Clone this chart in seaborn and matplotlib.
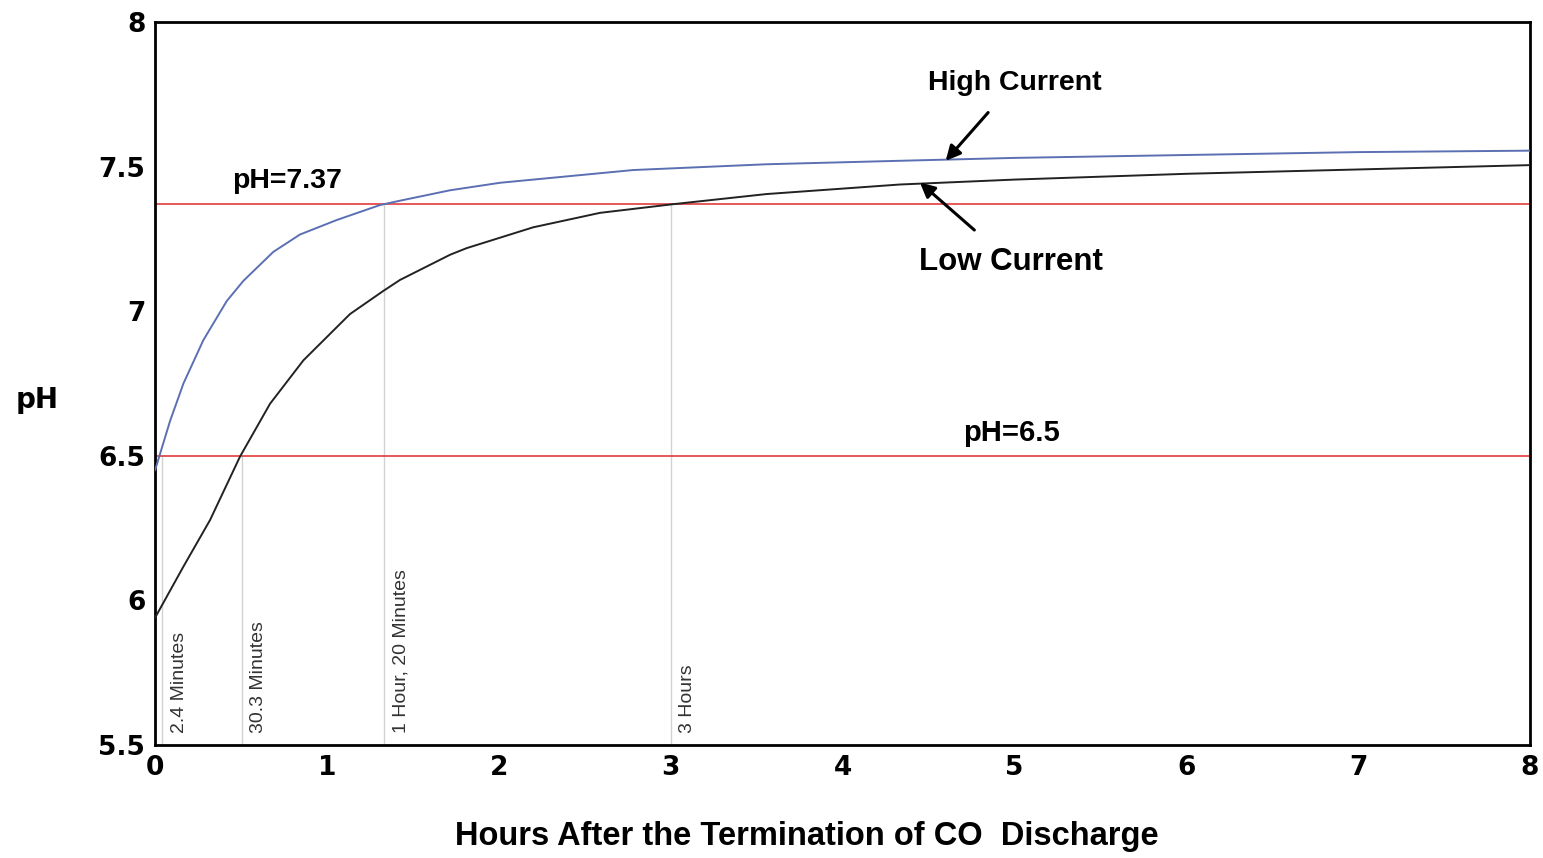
import matplotlib
matplotlib.use('Agg')
import matplotlib.pyplot as plt
import seaborn as sns
import pandas as pd
import numpy as np

# Data
hours_high = [0.0, 0.087, 0.165, 0.281, 0.417, 0.514, 0.688, 0.843, 1.056, 1.309, 1.425,
              1.716, 2.007, 2.782, 3.558, 4.334, 5.0, 6.0, 7.0, 8.0]
ph_high = [6.45, 6.62, 6.75, 6.90, 7.035, 7.105, 7.205, 7.265, 7.315, 7.367, 7.382,
           7.418, 7.444, 7.488, 7.508, 7.52, 7.53, 7.54, 7.55, 7.555]

hours_low = [0.0, 0.165, 0.32, 0.494, 0.669, 0.863, 1.134, 1.328, 1.425, 1.716, 1.813,
             2.2, 2.589, 3.015, 3.558, 4.334, 5.0, 6.0, 7.0, 8.0]
ph_low = [5.94, 6.117, 6.278, 6.497, 6.68, 6.83, 6.99, 7.07, 7.108, 7.195, 7.218,
          7.29, 7.34, 7.37, 7.405, 7.438, 7.455, 7.475, 7.49, 7.505]

ref_levels = [7.37, 6.5]
ref_labels = ['pH=7.37', 'pH=6.5']

mark_hours = [0.04, 0.505, 1.333, 3.0]
mark_tops = [6.5, 6.5, 7.37, 7.37]
mark_labels = ['2.4 Minutes', '30.3 Minutes', '1 Hour, 20 Minutes', '3 Hours']

x_ticks = [0, 1, 2, 3, 4, 5, 6, 7, 8]
y_ticks = [5.5, 6, 6.5, 7, 7.5, 8]
y_tick_labels = ['5.5', '6', '6.5', '7', '7.5', '8']

df = pd.concat([
    pd.DataFrame({'hours': hours_high, 'pH': ph_high, 'series': 'High Current'}),
    pd.DataFrame({'hours': hours_low, 'pH': ph_low, 'series': 'Low Current'}),
])

sns.set_style('white')
plt.rcParams['font.family'] = ['Liberation Sans', 'DejaVu Sans']
plt.rcParams['text.color'] = 'black'
plt.rcParams['axes.labelcolor'] = 'black'

fig, ax = plt.subplots(figsize=(15.43, 8.58), dpi=100)
fig.subplots_adjust(left=0.1005, right=0.9916, top=0.9744, bottom=0.1317)

# vertical marker lines
for h, top, lab in zip(mark_hours, mark_tops, mark_labels):
    ax.plot([h, h], [5.5, top], color='#d2d2d2', lw=1.0, zorder=1)
    ax.text(h + 0.05, 5.54, lab, rotation=90, ha='left', va='bottom',
            fontsize=14, color='#333333')

# reference pH lines
for lvl in ref_levels:
    ax.axhline(lvl, color='#e23b3b', lw=1.2, zorder=2)

sns.lineplot(data=df, x='hours', y='pH', hue='series',
             palette={'High Current': '#5b6fb3', 'Low Current': '#222222'},
             linewidth=1.4, legend=False, ax=ax, zorder=3)

ax.text(0.45, 7.405, ref_labels[0], fontsize=20.5, fontweight='bold', ha='left', va='bottom')
ax.text(4.7, 6.53, ref_labels[1], fontsize=21, fontweight='bold', ha='left', va='bottom')

ax.annotate('High Current', xy=(4.6, 7.52), xytext=(5.0, 7.79),
            fontsize=20.5, fontweight='bold', ha='center', va='center',
            arrowprops=dict(arrowstyle='-|>', color='black', lw=2.2, mutation_scale=22,
                            shrinkA=13, shrinkB=0))
ax.annotate('Low Current', xy=(4.45, 7.445), xytext=(4.98, 7.17),
            fontsize=22.5, fontweight='bold', ha='center', va='center',
            arrowprops=dict(arrowstyle='-|>', color='black', lw=2.2, mutation_scale=22,
                            shrinkA=15, shrinkB=0))

ax.set_xlim(0, 8)
ax.set_ylim(5.5, 8)
ax.set_xticks(x_ticks)
ax.set_xticklabels([str(t) for t in x_ticks], fontsize=19, fontweight='bold',
                   family='DejaVu Sans')
ax.set_yticks(y_ticks)
ax.set_yticklabels(y_tick_labels, fontsize=19, fontweight='bold', family='DejaVu Sans')
ax.tick_params(axis='both', direction='out', length=5, width=1.2, colors='black', pad=2)

ax.set_xlabel('Hours After the Termination of CO  Discharge', fontsize=23.5,
              fontweight='bold', va='center')
ax.xaxis.set_label_coords(0.474, -0.126)
ax.set_ylabel('pH', fontsize=20, fontweight='bold', rotation=0, va='center',
              family='DejaVu Sans')
ax.yaxis.set_label_coords(-0.086, 0.477)

for sp in ax.spines.values():
    sp.set_visible(True)
    sp.set_color('black')
    sp.set_linewidth(2)

fig.savefig('out.png', dpi=100)
